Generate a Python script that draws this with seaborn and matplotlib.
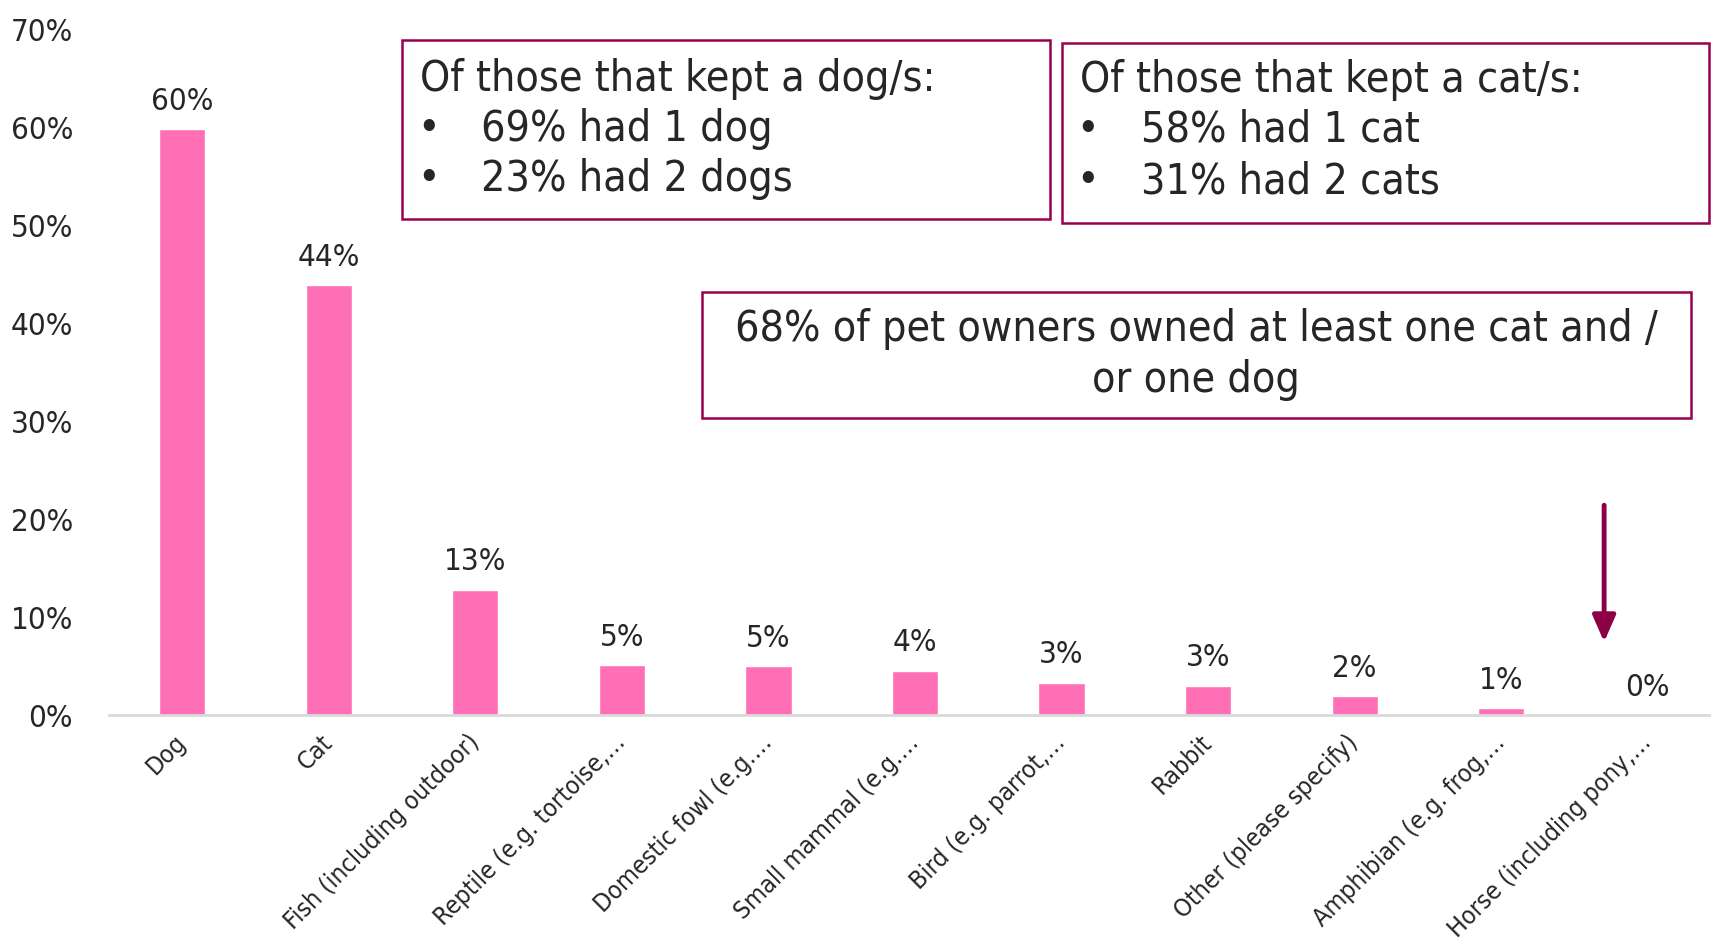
import matplotlib
matplotlib.use("Agg")
import matplotlib.pyplot as plt
import seaborn as sns
import pandas as pd
from matplotlib.patches import Rectangle

# ---- data ----
categories = ["Dog", "Cat", "Fish (including outdoor)", "Reptile (e.g. tortoise,\u2026",
              "Domestic fowl (e.g.\u2026", "Small mammal (e.g.\u2026", "Bird (e.g. parrot,\u2026",
              "Rabbit", "Other (please specify)", "Amphibian (e.g. frog,\u2026",
              "Horse (including pony,\u2026"]
values = [59.8, 43.9, 12.8, 5.1, 5.0, 4.5, 3.3, 3.0, 1.9, 0.7, 0.0]
value_labels = ["60%", "44%", "13%", "5%", "5%", "4%", "3%", "3%", "2%", "1%", "0%"]
ytick_values = [0, 10, 20, 30, 40, 50, 60, 70]
ytick_labels = ["0%", "10%", "20%", "30%", "40%", "50%", "60%", "70%"]

dog_box = ["Of those that kept a dog/s:", "69% had 1 dog", "23% had 2 dogs"]
cat_box = ["Of those that kept a cat/s:", "58% had 1 cat", "31% had 2 cats"]
owner_box = ["68% of pet owners owned at least one cat and /", "or one dog"]

W, H = 1711, 947
sns.set_theme(style="white")
plt.rcParams["font.family"] = ["DejaVu Sans"]
plt.rcParams["font.stretch"] = "condensed"
TXT = "#262626"
PINK = "#FF6FB5"
EDGE = "#990050"

fig = plt.figure(figsize=(W / 100, H / 100), dpi=100)
ax = fig.add_axes([109 / W, 1 - 715 / H, 1612 / W, (715 - 29.5) / H])

df = pd.DataFrame({"cat": categories, "val": values})
sns.barplot(data=df, x="cat", y="val", color=PINK, saturation=1, width=0.315, ax=ax)

ax.set_ylim(0, 70)
ax.set_xlim(-0.5, len(categories) - 0.5)
ax.set_yticks(ytick_values)
ax.set_yticklabels(ytick_labels, fontsize=22.5, color=TXT)
ax.tick_params(axis="y", length=0, pad=26)
ax.set_xlabel("")
ax.set_ylabel("")
for s in ["left", "right", "top"]:
    ax.spines[s].set_visible(False)
ax.spines["bottom"].set_color("#D9D9D9")
ax.spines["bottom"].set_linewidth(2)

ax.set_xticks(range(len(categories)))
ax.set_xticklabels(categories, rotation=45, ha="right", va="center",
                   rotation_mode="anchor", fontsize=18, color=TXT)
ax.tick_params(axis="x", length=0, pad=17)

for i, (v, lab) in enumerate(zip(values, value_labels)):
    ax.annotate(lab, (i, v), xytext=(0, 14), textcoords="offset points",
                ha="center", va="baseline", fontsize=22.5, color=TXT)

# arrow
ax.annotate("", xy=(0.9275, 0.1065), xytext=(0.9275, 0.306), xycoords="axes fraction",
            textcoords="axes fraction",
            arrowprops=dict(arrowstyle="-|>,head_width=0.35,head_length=0.8",
                            color="#8C0048", lw=3.5, mutation_scale=20,
                            shrinkA=0, shrinkB=0))

def fbox(x0, y0, x1, y1):
    fig.add_artist(Rectangle((x0 / W, 1 - y1 / H), (x1 - x0) / W, (y1 - y0) / H,
                             transform=fig.transFigure, fill=False, ec=EDGE, lw=1.8))

def ftext(x, y, s, **kw):
    fig.text(x / W, 1 - y / H, s, va="center", color=TXT, fontsize=30.8, **kw)

fbox(401.6, 40.4, 1049.7, 219.3)
ftext(420, 78.6, dog_box[0])
ftext(429, 128.8, "\u2022", ha="center")
ftext(481, 128.8, dog_box[1])
ftext(429, 179, "\u2022", ha="center")
ftext(481, 179, dog_box[2])

fbox(1061.7, 42.6, 1708.8, 222.6)
ftext(1080, 79.7, cat_box[0])
ftext(1088, 130, "\u2022", ha="center")
ftext(1141, 130, cat_box[1])
ftext(1088, 181, "\u2022", ha="center")
ftext(1141, 181, cat_box[2])

fbox(701.6, 292.4, 1691.4, 418)
ftext(1196, 328.5, owner_box[0], ha="center")
ftext(1196, 379.7, owner_box[1], ha="center")

fig.savefig("out.png", dpi=100, facecolor="white")
